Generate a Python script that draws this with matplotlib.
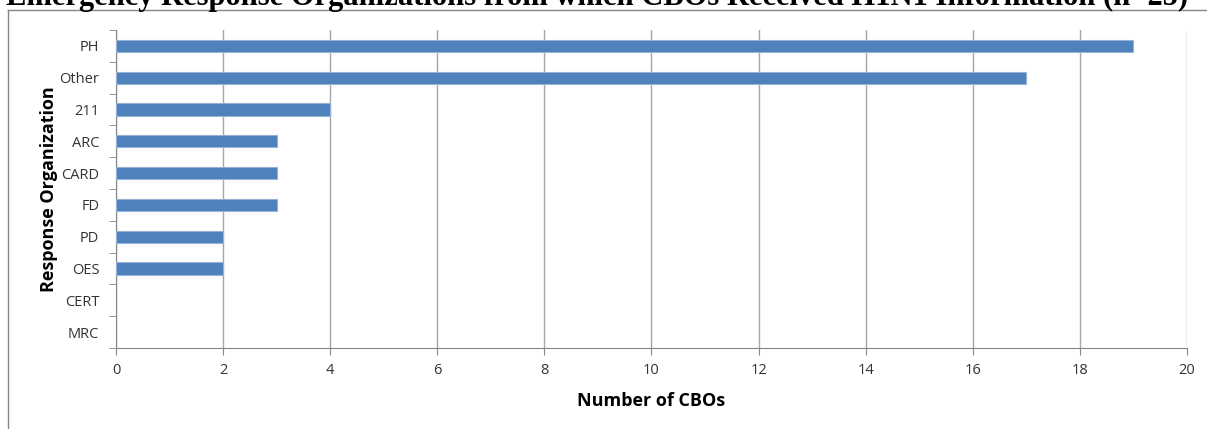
import matplotlib.pyplot as plt
import numpy as np

# data, top to bottom as in the chart
orgs = ['PH', 'Other', '211', 'ARC', 'CARD', 'FD', 'PD', 'OES', 'CERT', 'MRC']
counts = [19, 17, 4, 3, 3, 3, 2, 2, 0, 0]
x_ticks = list(range(0, 21, 2))

fig = plt.figure(figsize=(12.07, 4.29), dpi=100)
ax = fig.add_axes([0.0961, 0.1888, 0.8873, 0.7413])

pos = np.arange(len(orgs))
widths = [0.8 if c > 0 else 0 for c in counts]
ax.barh(pos, counts, height=0.38, color='#4F81BD', edgecolor='#95B3D7', linewidth=widths, zorder=3)

ax.set_ylim(len(orgs) - 0.5, -0.5)
ax.set_xlim(0, 20)
ax.set_xticks(x_ticks)
ax.set_yticks(pos)
ax.set_yticklabels(orgs)
ax.set_yticks(np.arange(-0.5, len(orgs), 1), minor=True)
ax.tick_params(axis='y', which='major', length=0, pad=12, labelsize=10.5, labelcolor='#333333')
ax.tick_params(axis='y', which='minor', length=5, color='#868686', direction='out')
ax.tick_params(axis='x', length=5, color='#868686', labelsize=10.5, labelcolor='#333333', pad=6)
for lab in ax.get_xticklabels() + ax.get_yticklabels():
    lab.set_family('Open Sans')

ax.grid(axis='x', color='#A6A6A6', linewidth=1, zorder=0)
for side in ['top', 'right']:
    ax.spines[side].set_visible(False)
ax.spines['left'].set_color('#868686')
ax.spines['bottom'].set_color('#868686')

ax.set_xlabel('Number of CBOs', fontsize=13, fontweight='bold', family='Open Sans', labelpad=10)
ax.set_ylabel('Response Organization', fontsize=13, fontweight='bold', family='Open Sans', labelpad=1)

# chart frame (top and left edges visible)
fig.add_artist(plt.Line2D([8 / 1207, 1.0], [1 - 10 / 429, 1 - 10 / 429], color='#868686', linewidth=1))
fig.add_artist(plt.Line2D([8 / 1207, 8 / 1207], [0, 1 - 10 / 429], color='#868686', linewidth=1))

# title, cut off at the top of the crop like the source image
fig.text(0.495, 1 - 5 / 429, 'Emergency Response Organizations from which CBOs Received H1N1 Information (n=25)',
         ha='center', va='baseline', fontsize=22, fontweight='bold', family='Liberation Serif')

fig.savefig('out.png', dpi=100)
